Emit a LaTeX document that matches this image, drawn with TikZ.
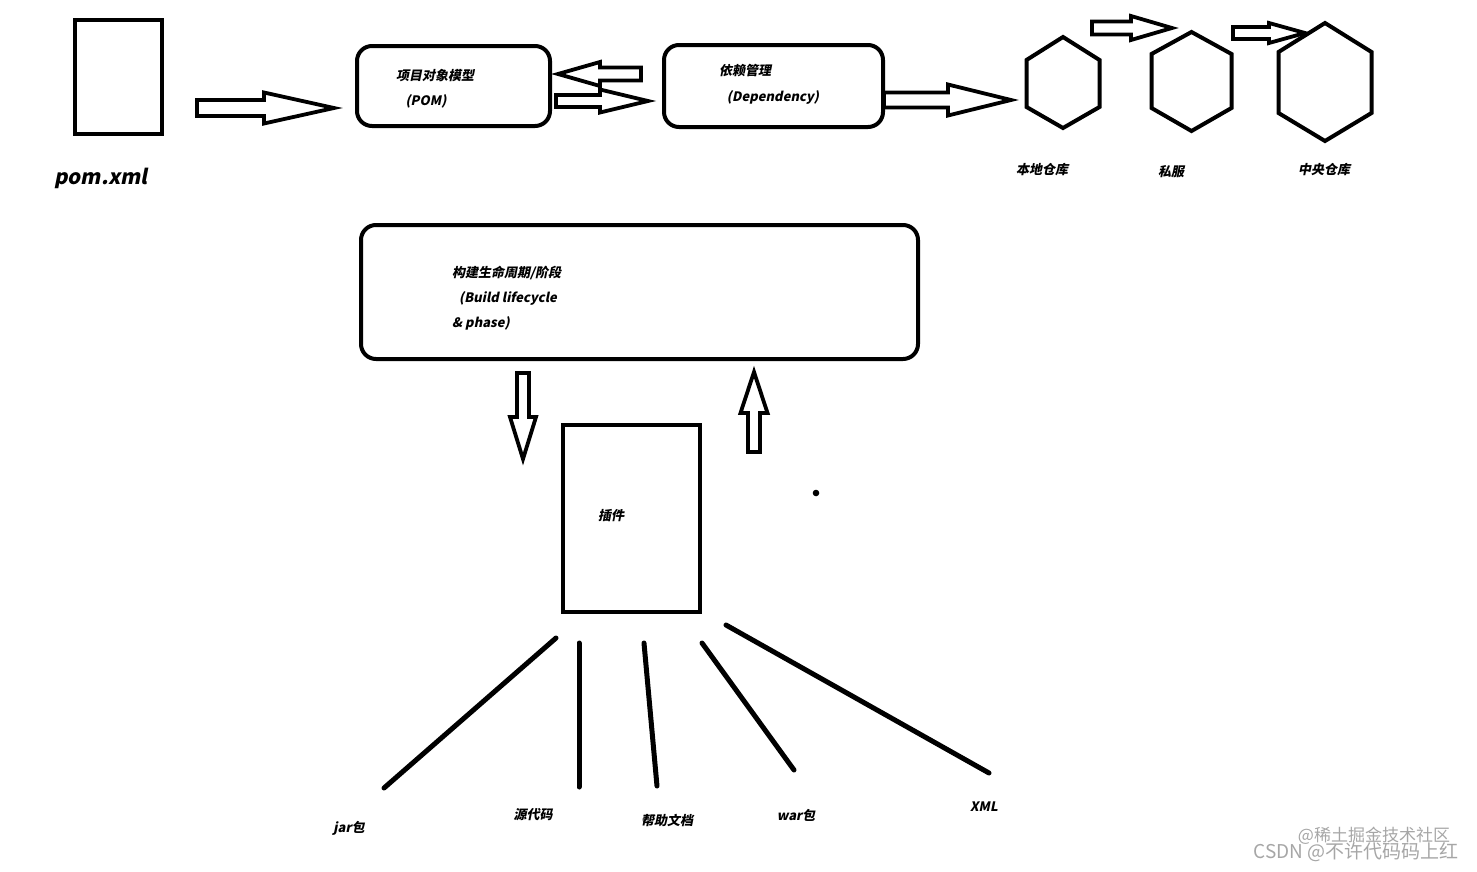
\documentclass[tikz,border=0pt]{standalone}
\usepackage{fontspec}
\newfontfamily\cjk[FakeSlant=0.2]{Noto Sans CJK SC}
\newfontfamily\wmfont{Noto Sans CJK SC}

\tikzset{
  frame/.style={draw, line width=4pt, inner sep=0pt},
  roundframe/.style={frame, rounded corners=15pt},
  blockarrow/.style={draw, line width=3.8pt, line join=miter},
  leg/.style={line width=5pt, line cap=round},
  lbl/.style={font=\cjk\bfseries\fontsize{13}{15}\selectfont, inner sep=0pt},
  watermark/.style={font=\wmfont\fontsize{17}{19}\selectfont, text=gray!70, inner sep=0pt},
}

% horizontal block arrow: tail x, head base x, tip x, y, shaft half, head half
\newcommand{\harrow}[6]{%
  \draw[blockarrow] (#1,#4-#5) -- (#2,#4-#5) -- (#2,#4-#6) -- (#3,#4)
    -- (#2,#4+#6) -- (#2,#4+#5) -- (#1,#4+#5) -- cycle;}
% vertical block arrow: x, tail y, head base y, tip y, shaft half, head half
\newcommand{\varrow}[6]{%
  \draw[blockarrow] (#1-#5,#2) -- (#1-#5,#3) -- (#1-#6,#3) -- (#1,#4)
    -- (#1+#6,#3) -- (#1+#5,#3) -- (#1+#5,#2) -- cycle;}

\begin{document}
\begin{tikzpicture}[x=1pt,y=-1pt, line join=miter]
\useasboundingbox (0,0) rectangle (1477,871);

% ===== Top row: pom.xml -> POM <-> Dependency -> repositories =====
\node[frame, minimum width=87, minimum height=114] (pomfile) at (118.5,77) {};
\node[lbl, font=\cjk\bfseries\fontsize{20.5}{23}\selectfont] (pomname) at (101,178) {pom.xml};

\node[roundframe, minimum width=193, minimum height=80] (pom) at (453.5,86) {};
\node[lbl] (pomcn) at (435,76) {项目对象模型};
\node[lbl] (pomen) at (426,101) {(POM)};

\node[roundframe, minimum width=219, minimum height=82] (dep) at (773.5,86) {};
\node[lbl] (depcn) at (745,71) {依赖管理};
\node[lbl] (depen) at (773,97) {(Dependency)};

\harrow{197}{264}{334}{108}{8}{15.5}
\harrow{641}{600}{558}{74}{6.5}{12}
\harrow{556}{600}{648}{101}{6}{11.5}
\harrow{884}{948}{1011}{100}{7.5}{15.5}

\foreach \n/\cx/\t/\b/\w/\u/\l in {local/1063/37/128/36.5/60/107,
    private/1191.5/32/131/40/54/108, central/1325/23/141/46.5/52/113} {
  \draw[frame] (\cx,\t) -- (\cx+\w,\u) -- (\cx+\w,\l) -- (\cx,\b)
    -- (\cx-\w,\l) -- (\cx-\w,\u) -- cycle;
  \coordinate (\n) at (\cx,{(\t+\b)/2});
}
\node[lbl] (locallbl) at (1042,170) {本地仓库};
\node[lbl] (privatelbl) at (1171,172) {私服};
\node[lbl] (centrallbl) at (1324,170) {中央仓库};

\harrow{1092}{1131}{1172}{28}{6.5}{12}
\harrow{1233}{1269}{1305}{33}{6}{10}

% ===== Build lifecycle and plugins =====
\node[roundframe, minimum width=557, minimum height=134] (lifecycle) at (639.5,292) {};
\node[lbl, anchor=west] (lifecn) at (452,273) {构建生命周期/阶段};
\node[lbl, anchor=west] (lifeen) at (459,298) {(Build lifecycle};
\node[lbl, anchor=west] (lifephase) at (452,323) {\& phase)};

\varrow{523}{373}{417}{459}{6}{13}
\varrow{754}{452}{413}{372}{6}{13.5}

\node[frame, minimum width=137, minimum height=187] (plugin) at (631.5,518.5) {};
\node[lbl] (plugincn) at (611,516) {插件};
\fill (816,493) circle (3.3);

% ===== Outputs =====
\foreach \xa/\ya/\xb/\yb in {556/638/384/788, 579/643/579/787, 644/643/657/786,
    702/643/794/770, 726/625/989/773}
  \draw[leg] (\xa,\ya) -- (\xb,\yb);
\node[lbl] (jar) at (349,828) {jar包};
\node[lbl] (src) at (533,815) {源代码};
\node[lbl] (doc) at (667,820) {帮助文档};
\node[lbl] (war) at (796,815) {war包};
\node[lbl] (xml) at (984,807) {XML};

% watermark
\node[watermark] (wm1) at (1374,836) {@稀土掘金技术社区};
\node[watermark, font=\wmfont\fontsize{19}{21}\selectfont] (wm2) at (1356,852) {CSDN @不许代码码上红};

\end{tikzpicture}
\end{document}
